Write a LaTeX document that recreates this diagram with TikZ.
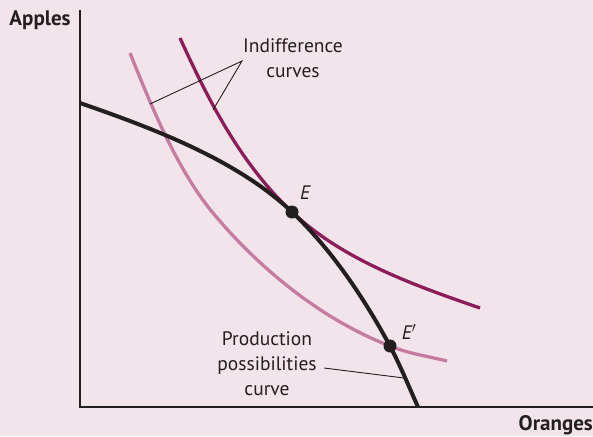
\documentclass[tikz,border=0pt]{standalone}
\usepackage{fontspec}
\setmainfont{PT Sans}
\definecolor{bgpink}{RGB}{242,228,235}
\definecolor{ink}{RGB}{35,31,32}
\definecolor{highic}{RGB}{140,28,90}
\definecolor{lowic}{RGB}{198,124,160}

\begin{document}
\begin{tikzpicture}[x=1pt,y=-1pt]
\fill[bgpink] (0,0) rectangle (593,436);
\useasboundingbox (0,0) rectangle (593,436);
\begin{scope}[every node/.style={font=\fontsize{19.5}{25}\selectfont, text=ink, align=center, inner sep=0pt}]
  \node[font=\fontsize{21}{25}\selectfont\bfseries] (apples) at (40,20) {Apples};
  \node[font=\fontsize{21}{25}\selectfont\bfseries, anchor=base east] (oranges) at (593,430) {Oranges};
  \node (indiff) at (293,58) {Indifference\\curves};
  \node (ppflabel) at (267,364) {Production\\possibilities\\curve};
  \node (Elbl) at (305,193) {\itshape E};
  \node (Eplbl) at (409,332) {\itshape E$'$};
\end{scope}
\coordinate (Ept) at (292,212);
\coordinate (Eppt) at (390,346);
\draw[ink, line width=2pt] (80,10) -- (80,407) -- (593,407);
\draw[lowic, line width=3.3pt] (130,53) .. controls (152,108) and (178,171) .. (213,213)
  .. controls (258,267) and (320,319) .. (Eppt)
  .. controls (410,354) and (427,356) .. (447,361);
\draw[highic, line width=3.3pt] (180,38) .. controls (210,104) and (242,165) .. (Ept)
  .. controls (342,259) and (410,284) .. (480,308);
\draw[ink, line width=4pt] (80,103) .. controls (155,129) and (237,160) .. (Ept)
  .. controls (332,250) and (364,298) .. (Eppt)
  .. controls (401,367) and (409,387) .. (418,407);
\begin{scope}[every node/.style={circle, fill=ink, inner sep=0pt, minimum size=13pt}]
  \node (E) at (Ept) {};
  \node (Ep) at (Eppt) {};
\end{scope}
\coordinate (apex) at (242,61);
\coordinate (lowpt) at (150,104);
\coordinate (highpt) at (213,110);
\coordinate (ppfpt) at (404,378);
\coordinate (ppfstart) at (324,368);
\draw[ink, line width=0.9pt] (lowpt) -- (apex) -- (highpt);
\draw[ink, line width=0.9pt] (ppfstart) -- (ppfpt);
\end{tikzpicture}
\end{document}
